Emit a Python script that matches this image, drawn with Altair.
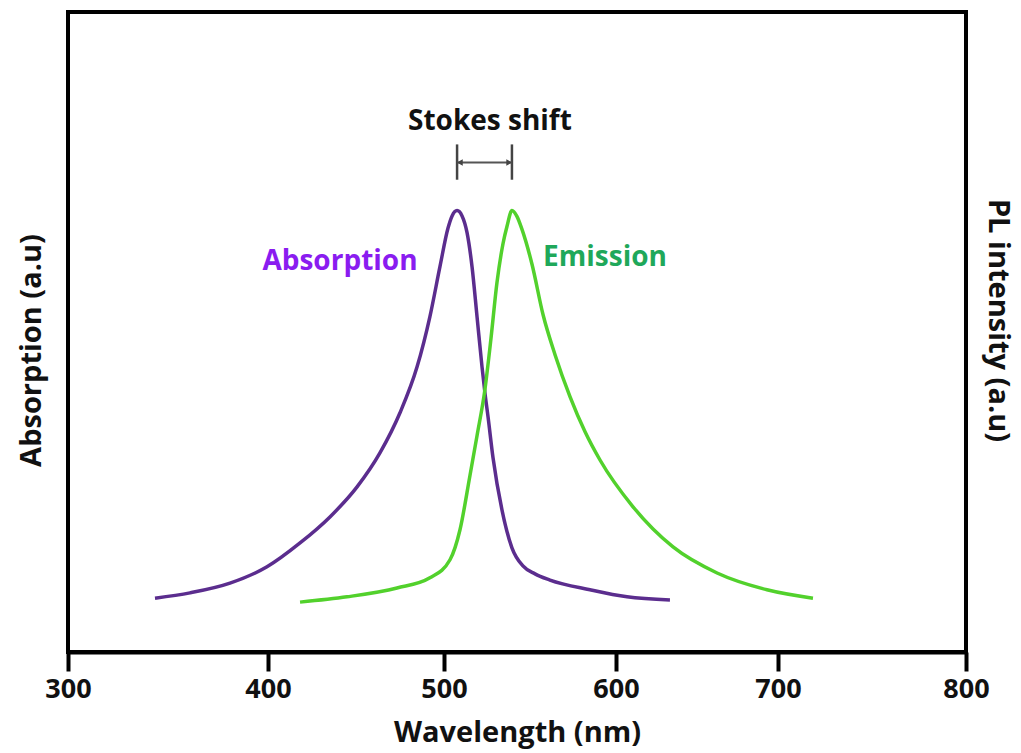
import altair as alt
import pandas as pd

# ---- data ----
abs_wl = [343.5, 361.0, 381.0, 399.5, 418.2, 435.2, 450.6, 463.6, 475.0, 484.7, 492.0, 497.7,
          502.3, 504.7, 507.6, 510.5, 513.4, 516.3, 519.2, 522.1, 523.8, 525.6, 528.5, 533.7,
          539.5, 545.9, 552.9, 561.6, 584.9, 606.8, 633.3]
abs_val = [0.122, 0.134, 0.156, 0.193, 0.247, 0.306, 0.374, 0.451, 0.542, 0.646, 0.760, 0.873,
           0.960, 0.988, 1.000, 0.988, 0.950, 0.873, 0.760, 0.646, 0.587, 0.533, 0.440, 0.322,
           0.236, 0.195, 0.177, 0.163, 0.141, 0.125, 0.118]

em_wl = [418.2, 444.9, 473.3, 492.0, 503.5, 509.3, 515.1, 519.2, 523.8, 527.3, 530.8, 534.3,
         536.6, 539.5, 542.4, 545.3, 551.2, 557.6, 564.6, 573.3, 582.0, 590.7, 610.5, 635.2,
         662.4, 693.2, 718.6]
em_val = [0.113, 0.125, 0.145, 0.168, 0.209, 0.277, 0.400, 0.490, 0.595, 0.710, 0.837, 0.925,
          0.964, 1.000, 0.987, 0.958, 0.878, 0.764, 0.673, 0.578, 0.499, 0.435, 0.329, 0.238,
          0.179, 0.141, 0.122]

x_ticks = [300, 400, 500, 600, 700, 800]
x_tick_px = [0, 200, 376, 548, 710, 898]   # uneven tick spacing of the original figure

peak_abs = 507.6
peak_em = 539.5

FONT = "Open Sans"
Y_DOM = [0, 1.45]

df_abs = pd.DataFrame({"wl": abs_wl, "v": abs_val})
df_em = pd.DataFrame({"wl": em_wl, "v": em_val})

xscale = alt.Scale(domain=x_ticks, range=x_tick_px, nice=False, zero=False)
yscale = alt.Scale(domain=Y_DOM, nice=False, zero=False)

xaxis = alt.Axis(values=x_ticks, title="Wavelength (nm)", grid=False, format="d",
                 tickSize=19, tickWidth=4, tickColor="black", domainColor="black",
                 domainWidth=4, labelFont=FONT, labelFontSize=27, labelFontWeight="bold",
                 labelColor="#111", labelPadding=5, labelFlush=False,
                 titleFont=FONT, titleFontSize=29, titleFontWeight="bold",
                 titleColor="#111", titlePadding=16)

left_axis = alt.Axis(title="Absorption (a.u)", labels=False, ticks=False, grid=False,
                     domain=False, titleFont=FONT, titleFontSize=29, titleFontWeight="bold",
                     titleColor="#111", titlePadding=22, titleY=338)
right_axis = alt.Axis(title="PL intensity (a.u)", orient="right", labels=False, ticks=False,
                      grid=False, domain=False, titleFont=FONT, titleFontSize=29,
                      titleFontWeight="bold", titleColor="#111", titlePadding=16,
                      titleY=308, titleAngle=90)

abs_line = alt.Chart(df_abs).mark_line(color="#5b2d8e", strokeWidth=3.5,
                                       interpolate="monotone").encode(
    x=alt.X("wl:Q", scale=xscale, axis=xaxis),
    y=alt.Y("v:Q", scale=yscale, axis=left_axis),
)

em_line = alt.Chart(df_em).mark_line(color="#52d12c", strokeWidth=3.5,
                                     interpolate="monotone").encode(
    x=alt.X("wl:Q", scale=xscale, axis=xaxis),
    y=alt.Y("v:Q", scale=yscale, axis=right_axis),
)

# labels
labels_df = pd.DataFrame({
    "wl": [440.9, 593.6, 526.7],
    "v": [0.884, 0.893, 1.200],
    "txt": ["Absorption", "Emission", "Stokes shift"],
    "col": ["#8a1cf0", "#1fa85a", "#111111"],
})
labels = alt.Chart(labels_df).mark_text(font=FONT, fontWeight="bold", fontSize=28,
                                        baseline="middle", align="center").encode(
    x=alt.X("wl:Q", scale=xscale, axis=xaxis),
    y=alt.Y("v:Q", scale=yscale, axis=None),
    text="txt:N",
    color=alt.Color("col:N", scale=None),
)

# Stokes shift bracket
bars_df = pd.DataFrame({"wl": [peak_abs, peak_em], "v1": [1.07, 1.07], "v2": [1.15, 1.15]})
bars = alt.Chart(bars_df).mark_rule(color="#444", strokeWidth=2.5).encode(
    x=alt.X("wl:Q", scale=xscale, axis=xaxis),
    y=alt.Y("v1:Q", scale=yscale, axis=None),
    y2="v2:Q",
)
hline_df = pd.DataFrame({"a": [peak_abs], "b": [peak_em], "v": [1.109]})
hline = alt.Chart(hline_df).mark_rule(color="#555", strokeWidth=2).encode(
    x=alt.X("a:Q", scale=xscale, axis=xaxis),
    x2="b:Q",
    y=alt.Y("v:Q", scale=yscale, axis=None),
)
heads_df = pd.DataFrame({"wl": [peak_abs + 1.6, peak_em - 1.6], "v": [1.109, 1.109],
                         "shape": ["triangle-left", "triangle-right"]})
heads = alt.Chart(heads_df).mark_point(filled=True, color="#444", size=45, opacity=1).encode(
    x=alt.X("wl:Q", scale=xscale, axis=xaxis),
    y=alt.Y("v:Q", scale=yscale, axis=None),
    shape=alt.Shape("shape:N", scale=None),
)

chart = alt.layer(abs_line, em_line, labels, bars, hline, heads).resolve_scale(
    y="independent"
).properties(
    width=898, height=640,
    autosize=alt.AutoSizeParams(type="none"),
    padding={"left": 68, "top": 12, "right": 55, "bottom": 101},
    background="white",
).configure_view(stroke="black", strokeWidth=4)

chart.save("out.html", embed_options={"renderer": "svg", "actions": False})
